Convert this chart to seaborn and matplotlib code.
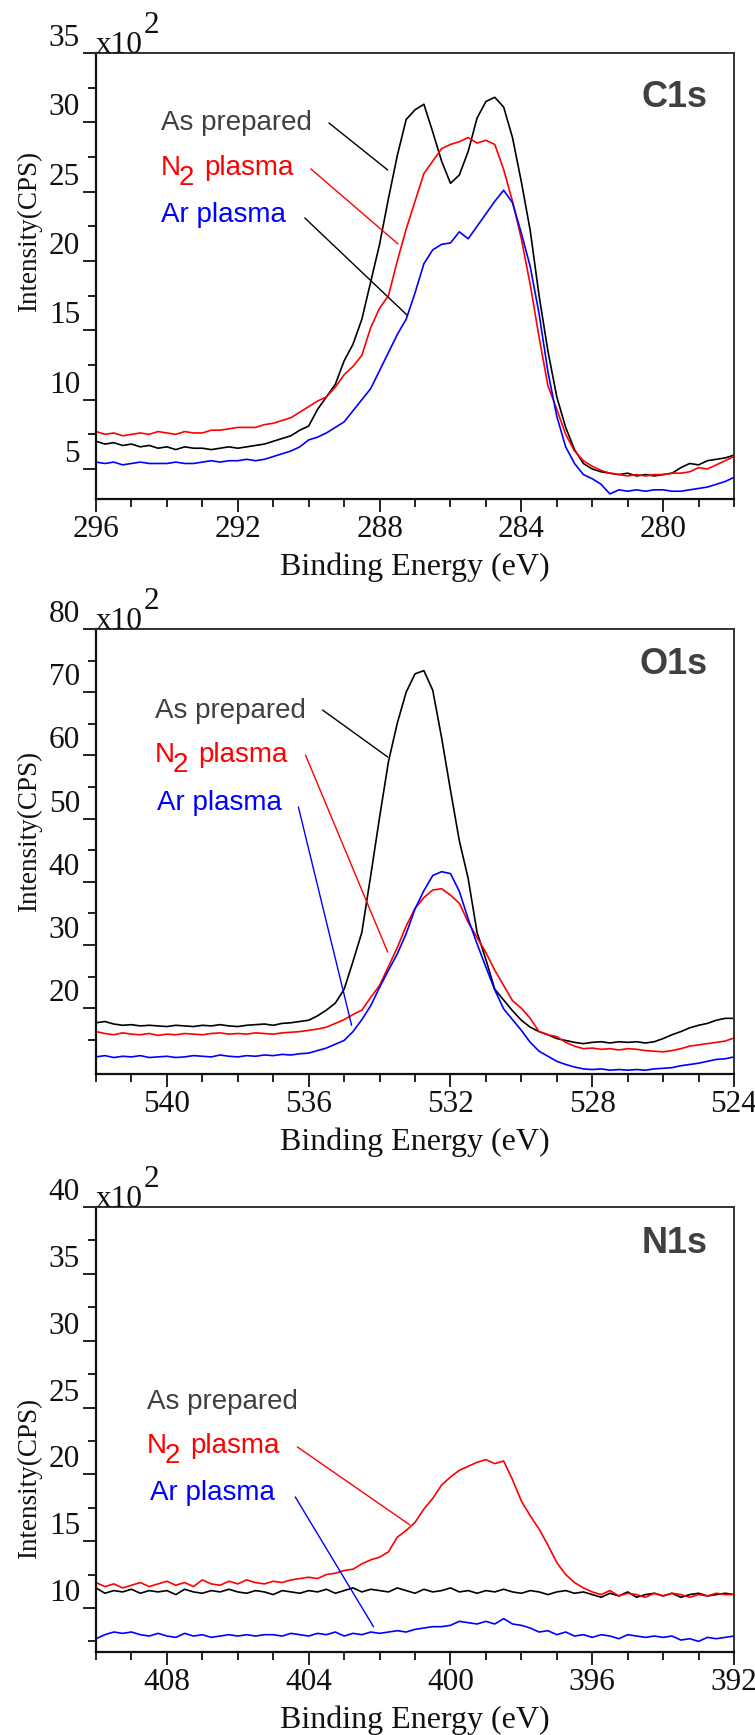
import numpy as np
import pandas as pd
import seaborn as sns
import matplotlib.pyplot as plt
from matplotlib.ticker import MultipleLocator, FixedLocator

sns.set_style('ticks')
plt.rcParams['font.family'] = ['Liberation Serif', 'DejaVu Serif']

samples = ['As prepared', 'N2 plasma', 'Ar plasma']
palette = {'As prepared': '#000000', 'N2 plasma': '#ff0000', 'Ar plasma': '#0000ff'}
text_colors = {'As prepared': '#404040', 'N2 plasma': '#ff0000', 'Ar plasma': '#0000ff'}

# ---- C1s (x10^2 CPS), 0.25 eV steps from 296 to 278 eV
c1s_energy = np.linspace(296, 278, 73)
c1s_asprep = [7.0, 6.8, 6.9, 6.7, 6.8, 6.6, 6.7, 6.5,
              6.6, 6.4, 6.6, 6.5, 6.5, 6.4, 6.5, 6.6,
              6.5, 6.6, 6.7, 6.8, 7.0, 7.2, 7.4, 7.8,
              8.1, 9.3, 10.2, 11.1, 12.8, 14.0, 15.8, 18.5,
              21.2, 24.5, 27.6, 30.2, 30.9, 31.3, 29.3, 27.2,
              25.6, 26.2, 27.9, 30.3, 31.5, 31.8, 31.1, 28.9,
              25.7, 22.2, 17.5, 13.5, 10.2, 8.0, 6.4, 5.4,
              5.0, 4.8, 4.7, 4.6, 4.7, 4.5, 4.6, 4.5,
              4.6, 4.7, 5.1, 5.4, 5.3, 5.6, 5.7, 5.8,
              6.0]
c1s_n2 = [7.7, 7.5, 7.6, 7.4, 7.5, 7.6, 7.5, 7.7,
          7.6, 7.5, 7.7, 7.6, 7.6, 7.8, 7.8, 7.9,
          8.0, 8.0, 8.0, 8.2, 8.3, 8.5, 8.7, 9.1,
          9.5, 9.9, 10.2, 10.9, 11.8, 12.4, 13.2, 15.2,
          16.6, 17.5, 20.0, 22.3, 24.3, 26.3, 27.2, 28.1,
          28.4, 28.6, 28.9, 28.5, 28.7, 28.4, 26.6, 24.3,
          21.6, 18.3, 14.5, 11.0, 9.3, 7.5, 6.3, 5.6,
          5.2, 4.9, 4.7, 4.6, 4.5, 4.6, 4.5, 4.6,
          4.6, 4.7, 4.7, 4.8, 5.1, 5.0, 5.3, 5.6,
          5.9]
c1s_ar = [5.5, 5.4, 5.5, 5.3, 5.4, 5.5, 5.4, 5.4,
          5.4, 5.5, 5.4, 5.4, 5.5, 5.6, 5.5, 5.6,
          5.6, 5.7, 5.6, 5.7, 5.9, 6.1, 6.3, 6.6,
          7.1, 7.3, 7.6, 8.0, 8.4, 9.2, 10.0, 10.8,
          12.1, 13.4, 14.7, 15.8, 17.7, 19.8, 20.8, 21.2,
          21.3, 22.1, 21.6, 22.5, 23.4, 24.3, 25.1, 24.2,
          22.0, 19.6, 16.2, 12.0, 8.8, 6.6, 5.4, 4.6,
          4.3, 3.9, 3.2, 3.5, 3.4, 3.5, 3.4, 3.5,
          3.5, 3.4, 3.4, 3.5, 3.6, 3.7, 3.9, 4.1,
          4.4]

# ---- O1s, 0.25 eV steps from 542 to 524 eV
o1s_energy = np.linspace(542, 524, 73)
o1s_asprep = [17.7, 17.9, 17.5, 17.3, 17.4, 17.2, 17.3, 17.2,
              17.1, 17.3, 17.2, 17.1, 17.3, 17.2, 17.4, 17.2,
              17.1, 17.3, 17.4, 17.5, 17.3, 17.6, 17.7, 17.9,
              18.1, 18.8, 19.7, 20.8, 23.0, 27.4, 32.0, 41.0,
              50.2, 59.0, 65.1, 70.0, 72.9, 73.4, 70.3, 62.8,
              54.5, 46.5, 40.5, 32.0, 27.7, 23.0, 21.3, 19.6,
              18.1, 17.0, 16.3, 15.8, 15.2, 14.9, 14.6, 14.4,
              14.6, 14.7, 14.5, 14.7, 14.6, 14.7, 14.5, 14.7,
              15.2, 15.8, 16.3, 16.9, 17.3, 17.6, 18.1, 18.4,
              18.4]
o1s_n2 = [16.3, 16.0, 15.8, 16.1, 15.9, 15.8, 16.0, 15.7,
          15.9, 15.8, 16.0, 15.9, 15.8, 16.0, 16.1, 15.9,
          16.0, 15.9, 16.1, 16.0, 15.9, 16.1, 16.2, 16.3,
          16.5, 16.7, 17.0, 17.6, 18.2, 19.0, 19.7, 21.7,
          23.6, 26.6, 29.6, 33.0, 35.8, 37.5, 38.7, 38.9,
          37.9, 36.6, 33.6, 31.2, 28.8, 26.0, 23.6, 21.2,
          20.0, 18.4, 16.3, 15.8, 15.5, 14.6, 14.0, 13.6,
          13.7, 13.5, 13.6, 13.4, 13.6, 13.5, 13.3, 13.2,
          13.1, 13.3, 13.6, 14.0, 14.2, 14.4, 14.6, 14.8,
          15.3]
o1s_ar = [12.3, 12.5, 12.2, 12.4, 12.3, 12.5, 12.2, 12.3,
          12.4, 12.2, 12.3, 12.5, 12.4, 12.3, 12.6, 12.4,
          12.3, 12.5, 12.4, 12.6, 12.5, 12.7, 12.6, 12.8,
          12.9, 13.3, 13.7, 14.3, 14.9, 16.3, 18.2, 20.4,
          23.3, 26.0, 28.6, 31.8, 35.7, 38.6, 41.0, 41.6,
          41.3, 38.5, 34.1, 30.2, 26.5, 22.9, 19.9, 18.2,
          16.5, 14.6, 13.2, 12.4, 11.6, 11.1, 10.7, 10.4,
          10.3, 10.4, 10.2, 10.3, 10.2, 10.3, 10.2, 10.4,
          10.5, 10.6, 10.9, 11.1, 11.3, 11.6, 11.9, 12.0,
          12.3]

# ---- N1s, 0.25 eV steps from 410 to 392 eV
n1s_energy = np.linspace(410, 392, 73)
n1s_asprep = [11.5, 11.1, 11.3, 11.2, 11.4, 11.1, 11.3, 11.2,
              11.3, 11.0, 11.4, 11.2, 11.1, 11.3, 11.2, 11.4,
              11.2, 11.1, 11.3, 11.2, 11.0, 11.3, 11.2, 11.1,
              11.3, 11.2, 11.4, 11.1, 11.3, 11.5, 11.2, 11.4,
              11.3, 11.2, 11.5, 11.3, 11.1, 11.4, 11.2, 11.3,
              11.5, 11.2, 11.3, 11.1, 11.3, 11.2, 11.4, 11.2,
              11.1, 11.3, 11.2, 11.0, 11.2, 11.3, 11.1, 11.2,
              11.0, 10.8, 11.1, 10.9, 11.2, 10.8, 11.0, 11.1,
              10.9, 11.1, 10.8, 11.0, 11.1, 10.9, 11.0, 11.1,
              11.0]
n1s_n2 = [11.9, 11.6, 11.8, 11.5, 11.7, 11.9, 11.6, 11.8,
          12.0, 11.7, 11.9, 11.6, 12.1, 11.8, 11.7, 12.0,
          11.8, 12.1, 11.9, 11.8, 12.0, 11.9, 12.1, 12.2,
          12.3, 12.2, 12.5, 12.6, 12.8, 12.9, 13.3, 13.6,
          13.8, 14.2, 15.3, 15.8, 16.4, 17.4, 18.2, 19.2,
          19.8, 20.3, 20.6, 20.9, 21.1, 20.8, 21.0, 19.6,
          18.0, 16.9, 15.9, 14.7, 13.4, 12.5, 11.9, 11.5,
          11.2, 11.0, 11.3, 10.9, 11.1, 11.0, 10.8, 11.1,
          10.9, 11.1, 11.0, 10.8, 11.0, 10.9, 11.1, 11.0,
          11.0]
n1s_ar = [7.7, 8.0, 8.2, 8.1, 8.2, 8.0, 7.9, 8.1,
          7.9, 7.8, 8.1, 7.9, 8.0, 7.8, 7.9, 8.0,
          7.9, 8.0, 7.9, 8.0, 8.0, 7.9, 8.1, 8.0,
          7.9, 8.1, 8.0, 8.2, 7.9, 8.1, 8.0, 8.2,
          8.1, 8.2, 8.3, 8.2, 8.4, 8.5, 8.6, 8.6,
          8.7, 9.0, 8.9, 8.8, 9.0, 8.8, 9.2, 8.8,
          8.7, 8.5, 8.2, 8.3, 8.0, 8.2, 7.9, 8.0,
          7.8, 8.0, 7.9, 7.7, 8.0, 7.9, 7.8, 7.9,
          7.8, 7.9, 7.6, 7.7, 7.5, 7.8, 7.7, 7.8,
          7.9]

# annotation labels (left/baseline) and leader lines, in data units
c1s_label_pos = [(294.18, 29.45), (294.18, 26.2), (294.18, 22.8)]
c1s_leader = [((289.43, 29.95), (287.77, 26.56)),
              ((289.94, 26.64), (287.48, 21.23)),
              ((290.11, 23.1), (287.23, 16.11))]
c1s_leader_colors = ['#000000', '#ff0000', '#000000']

o1s_label_pos = [(540.34, 65.9), (540.34, 58.95), (540.28, 51.35)]
o1s_leader = [((535.61, 67.18), (533.77, 59.74)),
              ((536.09, 60.05), (533.77, 28.87)),
              ((536.29, 51.82), (534.79, 17.31))]
o1s_leader_colors = ['#000000', '#ff0000', '#0000ff']

n1s_label_pos = [(408.57, 24.89), (408.57, 21.6), (408.48, 18.09)]
n1s_leader = [None,
              ((404.32, 22.05), (401.15, 16.22)),
              ((404.38, 18.31), (402.17, 8.59))]
n1s_leader_colors = [None, '#ff0000', '#0000ff']


def make_df(energy, series):
    frames = []
    for name, vals in zip(samples, series):
        frames.append(pd.DataFrame({'energy': energy, 'cps': vals, 'sample': name}))
    return pd.concat(frames, ignore_index=True)


def put_label(ax, xy, name):
    kw = dict(fontsize=20, family='Liberation Sans', color=text_colors[name], va='baseline', ha='left')
    if name == 'N2 plasma':
        ax.annotate('N', xy=xy, xycoords='data', **kw)
        ax.annotate('2', xy=xy, xycoords='data', xytext=(13.0, -7.5), textcoords='offset points', **kw)
        ax.annotate('plasma', xy=xy, xycoords='data', xytext=(31.5, 0), textcoords='offset points', **kw)
    else:
        ax.text(xy[0], xy[1], name, **kw)


def draw_panel(ax, energy, series, title, xlim, ylim, ymajor, yminor, xticks,
               label_pos, leaders, leader_colors, title_y, ylabel_y):
    df = make_df(energy, series)
    sns.lineplot(data=df, x='energy', y='cps', hue='sample', palette=palette,
                 estimator=None, linewidth=1.2, legend=False, ax=ax)
    ax.set_xlim(*xlim)
    ax.set_ylim(*ylim)

    ax.xaxis.set_major_locator(FixedLocator(xticks))
    ax.xaxis.set_minor_locator(MultipleLocator(1))
    ax.yaxis.set_major_locator(FixedLocator(ymajor))
    ax.yaxis.set_minor_locator(FixedLocator(yminor))
    ax.set_xticklabels([str(t) for t in xticks])
    ax.set_yticklabels([str(t) for t in ymajor])

    ax.tick_params(which='major', direction='out', length=9.5, width=1.3,
                   labelsize=22.5, pad=2, colors='#111111')
    ax.tick_params(which='minor', direction='out', length=6, width=1.3, colors='#111111')
    for lbl in ax.get_yticklabels():
        lbl.set_verticalalignment('bottom')

    for s in ['left', 'bottom']:
        ax.spines[s].set_linewidth(1.6)
        ax.spines[s].set_color('#111111')
    for s in ['top', 'right']:
        ax.spines[s].set_visible(True)
        ax.spines[s].set_linewidth(1.4)
        ax.spines[s].set_color('#333333')

    ax.set_xlabel('Binding Energy (eV)', fontsize=23, color='#111111')
    ax.xaxis.label.set_va('center')
    ax.xaxis.set_label_coords(0.5, -0.1525)
    ax.set_ylabel('Intensity(CPS)', fontsize=19.5, color='#111111')
    ax.yaxis.label.set_va('center')
    ax.yaxis.set_label_coords(-0.105, ylabel_y)

    # x10^2 multiplier above the y axis
    ax.annotate('x10', xy=(0, 1), xycoords='axes fraction', fontsize=22.5,
                va='baseline', ha='left', color='#111111')
    ax.annotate('2', xy=(0, 1), xycoords='axes fraction', xytext=(34.5, 14.5),
                textcoords='offset points', fontsize=22.5, va='baseline',
                ha='left', color='#111111')

    ax.text(0.959, title_y, title, transform=ax.transAxes, ha='right', va='center',
            fontsize=26, fontweight='bold', family='Liberation Sans', color='#404040')

    for name, pos, lead, lc in zip(samples, label_pos, leaders, leader_colors):
        put_label(ax, pos, name)
        if lead is not None:
            ax.annotate('', xy=lead[1], xytext=lead[0], xycoords='data', textcoords='data',
                        arrowprops=dict(arrowstyle='-', color=lc, lw=1.0,
                                        shrinkA=0, shrinkB=0))


fig = plt.figure(figsize=(7.55, 17.35), dpi=100)
ax1 = fig.add_axes([0.1272, 0.7124, 0.845, 0.2571])
ax2 = fig.add_axes([0.1272, 0.3810, 0.845, 0.2565])
ax3 = fig.add_axes([0.1272, 0.0478, 0.845, 0.2565])

draw_panel(ax1, c1s_energy, [c1s_asprep, c1s_n2, c1s_ar], 'C1s',
           (296, 278), (2.84, 35), [5, 10, 15, 20, 25, 30, 35],
           [7.5, 12.5, 17.5, 22.5, 27.5, 32.5], [296, 292, 288, 284, 280],
           c1s_label_pos, c1s_leader, c1s_leader_colors, 0.901, 0.60)

draw_panel(ax2, o1s_energy, [o1s_asprep, o1s_n2, o1s_ar], 'O1s',
           (542, 524), (9.6, 80), [20, 30, 40, 50, 60, 70, 80],
           [15, 25, 35, 45, 55, 65, 75], [540, 536, 532, 528, 524],
           o1s_label_pos, o1s_leader, o1s_leader_colors, 0.919, 0.545)

draw_panel(ax3, n1s_energy, [n1s_asprep, n1s_n2, n1s_ar], 'N1s',
           (410, 392), (6.7, 40), [10, 15, 20, 25, 30, 35, 40],
           [7.5, 12.5, 17.5, 22.5, 27.5, 32.5, 37.5], [408, 404, 400, 396, 392],
           n1s_label_pos, n1s_leader, n1s_leader_colors, 0.919, 0.39)

fig.savefig('out.png', dpi=100, facecolor='white')
